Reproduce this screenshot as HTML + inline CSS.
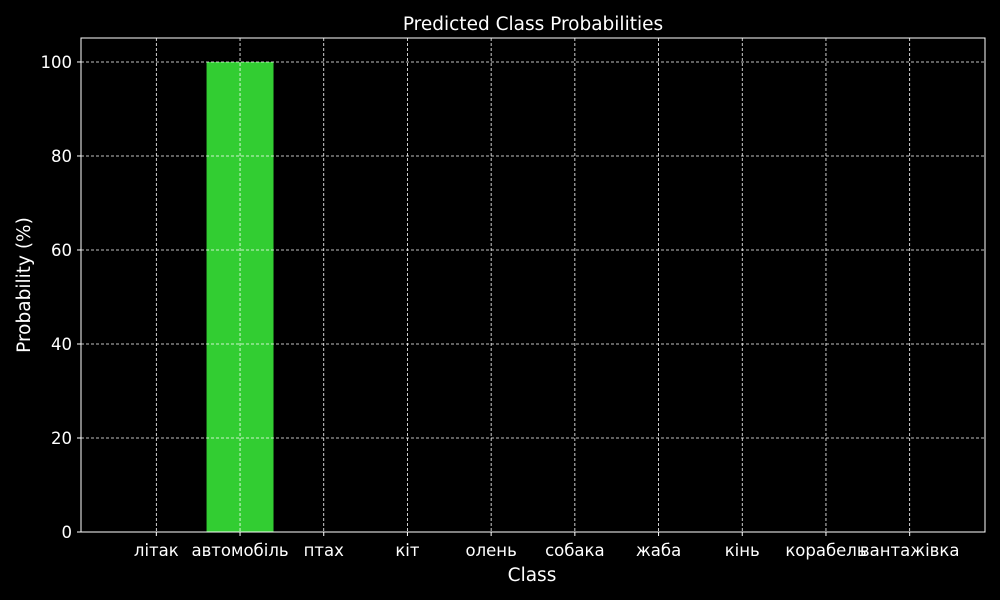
<!DOCTYPE html>
<html><head><meta charset="utf-8"><style>
html,body{margin:0;padding:0;background:#000;}
svg{display:block;font-family:"DejaVu Sans","Liberation Sans",sans-serif;}
</style></head><body>
<svg id="chart" width="1000" height="600">
<rect width="1000" height="600" fill="#000"/>
<text x="533" y="30" fill="#fff" font-size="18.5" text-anchor="middle">Predicted Class Probabilities</text>
<text x="532" y="581" fill="#fff" font-size="18.5" text-anchor="middle">Class</text>
<text transform="translate(30,285) rotate(-90)" fill="#fff" font-size="18.5" text-anchor="middle">Probability (%)</text>
<g id="bars"></g><g id="grid"></g><g id="ticks"></g>
<rect x="81" y="38" width="904" height="494" fill="none" stroke="#fff" stroke-width="1"/>
</svg>
<script>
const categories = ["літак","автомобіль","птах","кіт","олень","собака","жаба","кінь","корабель","вантажівка"];
const values = [0,100,0,0,0,0,0,0,0,0];
const yTicks = [0,20,40,60,80,100];
const L=81,R=985,T=38,B=532;
const xMin=-0.9,xMax=categories.length-0.1,yMax=105.1;
const xs=i=>L+(i-xMin)/(xMax-xMin)*(R-L);
const ys=v=>B-v/yMax*(B-T);
const NS="http://www.w3.org/2000/svg";
function mk(tag,attrs,parent,txt){const e=document.createElementNS(NS,tag);for(const k in attrs)e.setAttribute(k,attrs[k]);if(txt!==undefined)e.textContent=txt;document.getElementById(parent).appendChild(e);return e;}
const bw=0.8*(xs(1)-xs(0));
values.forEach((v,i)=>{
  const r=mk('rect',{x:xs(i)-bw/2,y:ys(v),width:bw,height:B-ys(v),fill:'#32cd32'},'bars');
  
  
});
categories.forEach((c,i)=>{
  const g=mk('line',{x1:xs(i),x2:xs(i),y1:T,y2:B,stroke:'#fff','stroke-width':0.8,'stroke-dasharray':'3,2'},'grid');
  
  
  const t=mk('line',{x1:xs(i),x2:xs(i),y1:B,y2:B+4,stroke:'#fff'},'ticks');
  
  
  const l=mk('text',{x:xs(i),y:B+24,fill:'#fff','font-size':16.5,'text-anchor':'middle'},'ticks',c);
  
  
});
yTicks.forEach(v=>{
  if(v>0){const g=mk('line',{x1:L,x2:R,y1:ys(v),y2:ys(v),stroke:'#fff','stroke-width':0.8,'stroke-dasharray':'3,2'},'grid');
  
  }
  const t=mk('line',{x1:L-4,x2:L,y1:ys(v),y2:ys(v),stroke:'#fff'},'ticks');
  
  
  const l=mk('text',{x:L-9,y:ys(v)+6,fill:'#fff','font-size':16.5,'text-anchor':'end'},'ticks',String(v));
  
  
});
</script>
</body></html>
